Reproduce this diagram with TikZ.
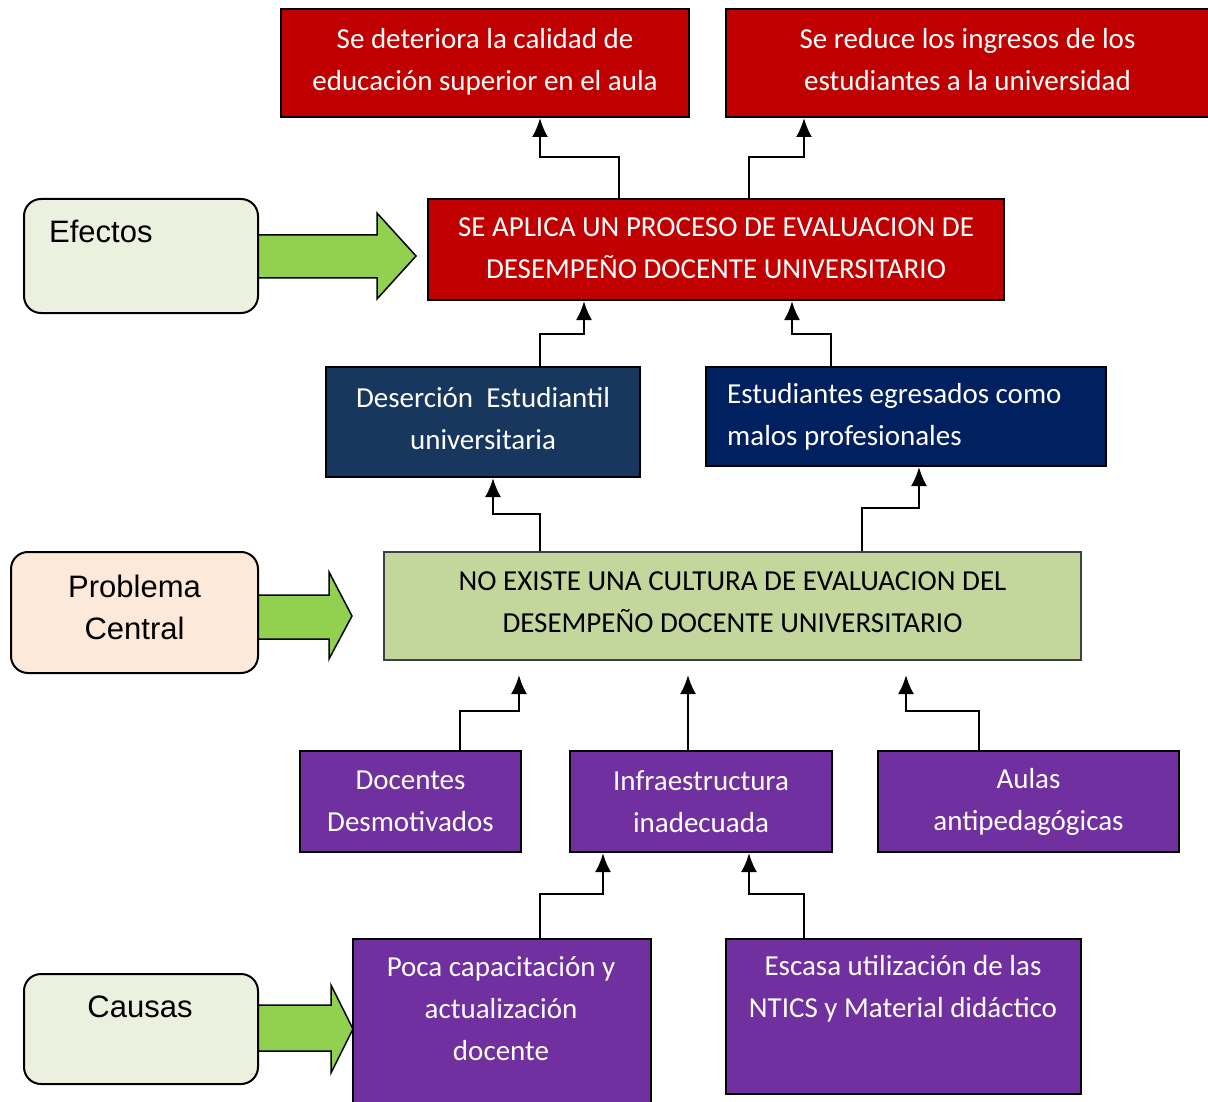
\documentclass[tikz,border=0pt]{standalone}
\usepackage{fontspec}
\setmainfont{Carlito}
\newfontfamily\arialf{Liberation Sans}
\usetikzlibrary{arrows.meta}
\definecolor{boxred}{HTML}{C00000}
\definecolor{deepblue}{HTML}{17375E}
\definecolor{navyblue}{HTML}{002060}
\definecolor{violetbox}{HTML}{7030A0}
\definecolor{probgreen}{HTML}{C3D69B}
\definecolor{lgreen}{HTML}{EBF1DE}
\definecolor{peach}{HTML}{FDE9D9}
\definecolor{agreen}{HTML}{92D050}
\begin{document}
\begin{tikzpicture}[x=1pt,y=-1pt,
  box/.style={draw=black, line width=2pt, inner sep=0pt, align=center, anchor=north west,
    font=\fontsize{29}{42}\selectfont, text=white},
  redbox/.style={box, fill=boxred, text depth=8pt},
  bluebox/.style={box, fill=deepblue, text depth=8pt},
  navybox/.style={box, fill=navyblue},
  vbox/.style={box, fill=violetbox},
  probbox/.style={box, fill=probgreen, draw=black!75, text=black, text depth=8pt},
  txt/.style={inner sep=0pt, align=center, font=\fontsize{29}{42}\selectfont, text=white},
  lab/.style={draw=black, line width=2pt, rounded corners=17pt, inner sep=0pt, anchor=north west,
    align=center, font=\arialf\fontsize{31}{42}\selectfont},
  labtxt/.style={inner sep=0pt, font=\arialf\fontsize{31}{42}\selectfont},
  garrow/.style={draw=black, line width=1.5pt, fill=agreen, line join=miter},
  conn/.style={line width=2.4pt, -{Latex[length=19pt,width=16pt]}}]
\useasboundingbox (0,0) rectangle (1208,1102);

% green block arrows
\draw[garrow] (257,235) -- (377,235) -- (377,213) -- (416,256) -- (377,299) -- (377,278) -- (257,278) -- cycle;
\draw[garrow] (257,595) -- (329,595) -- (329,572) -- (352,616) -- (329,659) -- (329,639) -- (257,639) -- cycle;
\draw[garrow] (257,1005) -- (331,1005) -- (331,985) -- (353,1029) -- (331,1073) -- (331,1051) -- (257,1051) -- cycle;

% left labels
\node[lab, fill=lgreen, minimum width=234pt, minimum height=114pt] (efl) at (23,198) {};
\node[labtxt, anchor=base west] (eflt) at (49,243) {Efectos};
\node[lab, fill=peach, minimum width=247pt, minimum height=121pt, text depth=10pt] (pcl) at (10,551) {Problema\\Central};
\node[lab, fill=lgreen, minimum width=234pt, minimum height=110pt] (caul) at (23,973) {};
\node[labtxt, anchor=base] (cault) at (140,1017) {Causas};

% top effects
\node[redbox, minimum width=408pt, minimum height=108pt] (tl) at (280,8)
  {Se deteriora la calidad de\\educación superior en el aula};
\node[redbox, minimum width=483pt, minimum height=108pt] (tr) at (725,8)
  {Se reduce los ingresos de los\\estudiantes a la universidad};
\node[redbox, minimum width=576pt, minimum height=101pt, text depth=2pt] (eff) at (427,198)
  {SE APLICA UN PROCESO DE EVALUACION DE\\DESEMPEÑO DOCENTE UNIVERSITARIO};

\node[bluebox, minimum width=314pt, minimum height=110pt] (des) at (325,366)
  {Deserción\ \ Estudiantil\\universitaria};
\node[navybox, minimum width=400pt, minimum height=99pt] (egr) at (705,366) {};
\node[txt, align=left, anchor=west] (egrt) at (727,417)
  {Estudiantes egresados como\\malos profesionales};

% central problem
\node[probbox, minimum width=697pt, minimum height=108pt] (prob) at (383,551)
  {NO EXISTE UNA CULTURA DE EVALUACION DEL\\DESEMPEÑO DOCENTE UNIVERSITARIO};
\path (prob.south) ++(0,14) coordinate (probb);

% causes
\node[vbox, minimum width=221pt, minimum height=101pt] (doc) at (299,750) {Docentes\\Desmotivados};
\node[vbox, minimum width=262pt, minimum height=101pt] (inf) at (569,750) {Infraestructura\\inadecuada};
\node[vbox, minimum width=301pt, minimum height=101pt] (aul) at (877,750) {Aulas\\antipedagógicas};

\node[vbox, minimum width=298pt, minimum height=168pt] (poca) at (352,938) {};
\node[txt] (pocat) at (501,1009) {Poca capacitación y\\actualización\\docente};
\node[vbox, minimum width=355pt, minimum height=155pt] (esc) at (725,938) {};
\node[txt] (esct) at (903,989) {Escasa utilización de las\\NTICS y Material didáctico};

% connectors
\draw[conn] (eff.north -| 619,0) -- ++(0,-41) -| (tl.south -| 540,0);
\draw[conn] (eff.north -| 749,0) -- ++(0,-41) -| (tr.south -| 804,0);
\draw[conn] (des.north -| 540,0) -- ++(0,-32) -| (eff.south -| 584,0);
\draw[conn] (egr.north -| 831,0) -- ++(0,-32) -| (eff.south -| 792,0);
\draw[conn] (prob.north -| 540,0) -- ++(0,-37) -| (des.south -| 493,0);
\draw[conn] (prob.north -| 862,0) -- ++(0,-43) -| (egr.south -| 919,0);
\draw[conn] (doc.north -| 460,0) -- ++(0,-39) -| (probb -| 519,0);
\draw[conn] (inf.north -| 688,0) -- (probb -| 688,0);
\draw[conn] (aul.north -| 979,0) -- ++(0,-39) -| (probb -| 906,0);
\draw[conn] (poca.north -| 540,0) -- ++(0,-44) -| (inf.south -| 603,0);
\draw[conn] (esc.north -| 804,0) -- ++(0,-44) -| (inf.south -| 749,0);
\end{tikzpicture}
\end{document}
